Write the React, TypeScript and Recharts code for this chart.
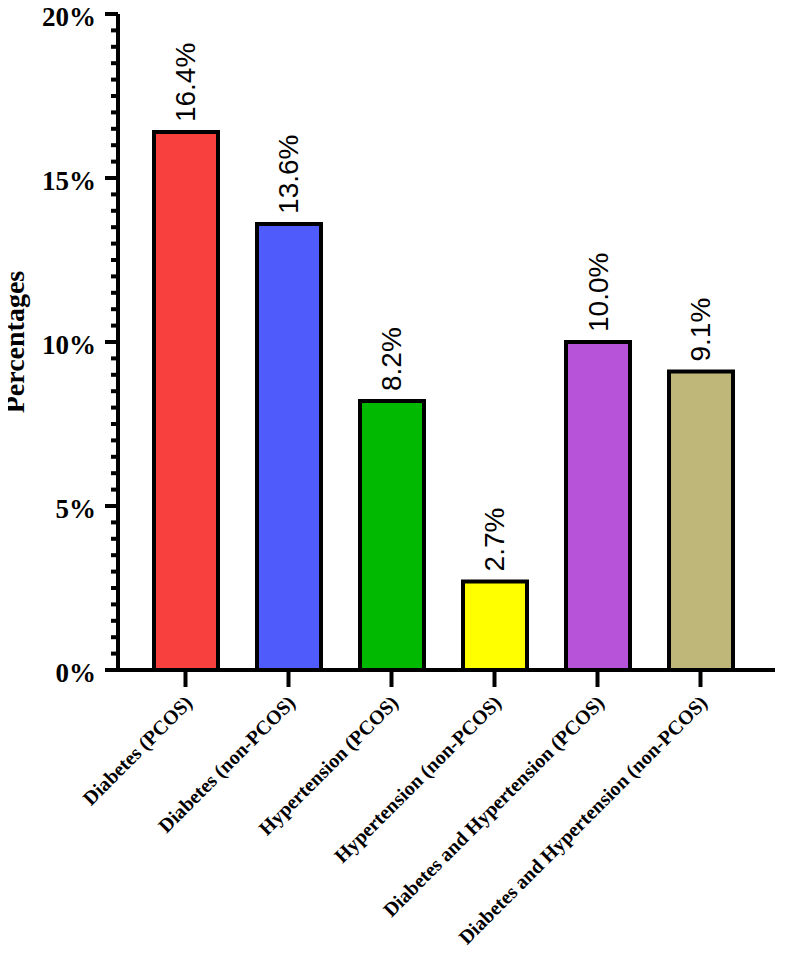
import { BarChart, Bar, XAxis, YAxis, Cell, LabelList } from 'recharts';

const categories = [
  'Diabetes (PCOS)',
  'Diabetes (non-PCOS)',
  'Hypertension (PCOS)',
  'Hypertension (non-PCOS)',
  'Diabetes and Hypertension (PCOS)',
  'Diabetes and Hypertension (non-PCOS)',
];
const percentages = [16.4, 13.6, 8.2, 2.7, 10.0, 9.1];
const barColors = ['#f8403f', '#4f5bfb', '#00b900', '#ffff00', '#b653d9', '#bfb679'];
const majorTicks = [0, 5, 10, 15, 20];
const allTicks = Array.from({ length: 41 }, (_, i) => i * 0.5);

const data = categories.map((name, i) => ({ name, value: percentages[i] }));

const serif = '"Liberation Serif", "Times New Roman", serif';
const sans = '"Liberation Sans", Arial, sans-serif';

function YTick({ x, y, payload }: any) {
  const major = majorTicks.includes(payload.value);
  return (
    <g>
      <line x1={x - (major ? 13 : 7)} y1={y} x2={x} y2={y} stroke="#000" strokeWidth={4} />
      {major && (
        <text x={x - 22} y={y} dy={3} textAnchor="end" dominantBaseline="central"
          fontFamily={serif} fontWeight="bold" fontSize={27} fill="#000">
          {`${payload.value}%`}
        </text>
      )}
    </g>
  );
}

function XTick({ x, y, payload }: any) {
  const tx = x + 8;
  const ty = y + 34;
  return (
    <g>
      <line x1={x} y1={y} x2={x} y2={y + 17} stroke="#000" strokeWidth={4} />
      <text x={tx} y={ty} textAnchor="end" transform={`rotate(-45, ${tx}, ${ty})`}
        fontFamily={serif} fontWeight="bold" fontSize={20} fill="#000">
        {payload.value}
      </text>
    </g>
  );
}

function ValueLabel({ x, y, width, value }: any) {
  const cx = x + width / 2;
  const cy = y - 10;
  return (
    <text x={cx} y={cy} textAnchor="start" dominantBaseline="central"
      transform={`rotate(-90, ${cx}, ${cy})`} fontFamily={sans} fontSize={28} fill="#000">
      {`${Number(value).toFixed(1)}%`}
    </text>
  );
}

export default function App() {
  return (
    <div style={{ margin: -8 }}>
      <BarChart width={787} height={959} data={data}
        margin={{ top: 14, right: 12, left: 0, bottom: 0 }}>
        <XAxis dataKey="name" interval={0} height={289} tickSize={0} tickMargin={0}
          padding={{ left: 16, right: 23 }} tickLine={false}
          axisLine={{ stroke: '#000', strokeWidth: 4 }} tick={<XTick />} />
        <YAxis domain={[0, 20]} ticks={allTicks} interval={0} width={118} tickSize={0} tickMargin={0}
          tickLine={false} axisLine={{ stroke: '#000', strokeWidth: 4 }} tick={<YTick />}
          label={{
            content: () => (
              <text x={14} y={342} textAnchor="middle" dominantBaseline="central"
                transform="rotate(-90, 14, 342)" fontFamily={serif} fontWeight="bold" fontSize={28} fill="#000">
                Percentages
              </text>
            ),
          }} />
        <Bar dataKey="value" barSize={64} stroke="#000" strokeWidth={4} isAnimationActive={false}>
          {data.map((d, i) => (
            <Cell key={d.name} fill={barColors[i]} />
          ))}
          <LabelList dataKey="value" content={<ValueLabel />} />
        </Bar>
      </BarChart>
    </div>
  );
}
